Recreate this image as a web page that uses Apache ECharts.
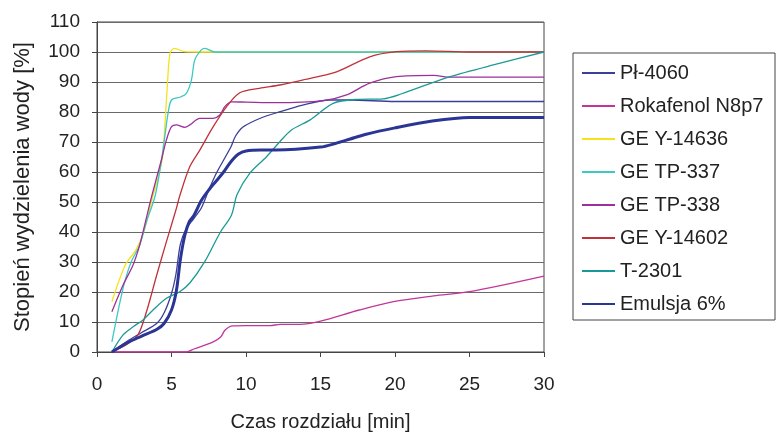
<!DOCTYPE html>
<html>
<head>
<meta charset="utf-8">
<script src="https://cdn.jsdelivr.net/npm/echarts@6/dist/echarts.min.js"></script>
<style>
  html, body { margin: 0; padding: 0; background: #fff; }
  #chart { width: 777px; height: 432px; }
</style>
</head>
<body>
<div id="chart"></div>
<script>
// [czas min, stopien %]
var pl4060 = [[1,0],[2,3.5],[3,6.5],[4,9.5],[4.5,13],[5,19.5],[5.3,26],[5.6,36],[6,41.2],[6.5,44.5],[7,48],[7.5,54],[8,59.5],[8.5,64],[9,68.5],[9.3,72],[9.8,75],[11,78],[12.3,80.1],[13.8,82.3],[15.6,84],[17,84],[20,83.5],[30,83.5]];
var rokafenol = [[1,0],[6,0],[6.5,1],[7.8,3.4],[8.3,5],[8.6,7.3],[9.1,8.7],[10,8.8],[11.6,8.8],[12.3,9.2],[13.6,9.2],[15,10.3],[17.6,14],[19.9,16.8],[22.6,18.7],[25,20.1],[30,25.3]];
var geY14636 = [[1,16.8],[1.9,29],[2.65,34.3],[3.2,41],[3.75,52],[4.1,58],[4.4,65],[4.7,87],[4.9,99.6],[5.2,101.2],[5.9,100.1],[7,100],[30,100]];
var geTP337 = [[1,3.4],[1.5,15.7],[1.86,23.4],[2.3,30.1],[2.87,35.7],[3.32,43.4],[3.9,52],[4.3,63],[4.55,71.8],[4.77,79.6],[5,84],[5.6,85],[6,86.2],[6.34,90.7],[6.56,97.3],[7,100.7],[7.25,101.2],[7.9,100],[30,100]];
var geTP338 = [[1,13.4],[1.75,22.3],[2.42,29],[2.87,35.7],[3.2,42.3],[3.65,51.5],[4.32,64],[4.66,70.7],[5,75.1],[5.33,75.7],[5.89,74.9],[6.23,75.7],[6.9,77.9],[7.8,77.9],[8.24,79],[8.58,81.8],[9.03,83.4],[10,83.3],[12,83.1],[15.2,83.8],[16.75,85.7],[18.3,89.6],[20.1,91.8],[22.6,92.2],[23.7,91.6],[30,91.6]];
var geY14602 = [[1,0],[2,2.5],[2.75,5.7],[3.32,13.4],[4,25.5],[4.66,36.8],[5.33,47.9],[5.55,52],[6.23,61.8],[6.9,67.3],[7.8,75.1],[8.7,81.8],[9.58,86.4],[10.9,87.9],[12.27,89],[13.84,90.7],[16.08,93.4],[18.3,98.4],[20.1,100.1],[22.1,100.4],[25,100],[30,100]];
var t2301 = [[1,0],[1.75,5.7],[2.42,8.4],[3.09,10.7],[3.76,14],[4.66,17.9],[5.55,20.1],[6.23,23],[7.23,30.1],[8.24,39.6],[9.03,45.7],[9.4,52.5],[10.26,59.6],[11.38,65.1],[12.27,70.1],[13.05,74],[14.28,77.3],[15.85,82.9],[17.4,84.2],[19.2,84.4],[20.4,86],[23.7,91.8],[27,96.2],[30,100]];
var emulsja = [[1,0],[2,3],[3,5.3],[4,7.5],[4.5,9.5],[5,14],[5.33,20.5],[5.6,31],[5.9,39],[6.2,43.5],[6.5,45.5],[7,50.5],[7.5,54],[8,57],[8.5,60],[9,63.5],[9.5,66],[10,67],[11,67.3],[12,67.3],[15,68.3],[16,69.5],[17,71],[18,72.5],[20,74.7],[22.5,77],[25,78.2],[30,78.2]];

var seriesNames = ['Pł-4060', 'Rokafenol N8p7', 'GE Y-14636', 'GE TP-337', 'GE TP-338', 'GE Y-14602', 'T-2301', 'Emulsja 6%'];
var seriesData = [pl4060, rokafenol, geY14636, geTP337, geTP338, geY14602, t2301, emulsja];
var colors = ['#3a3f98', '#c4359a', '#f5e21a', '#3cc8c4', '#9b3199', '#c0323a', '#1a9a96', '#2a3596'];

var chart = echarts.init(document.getElementById('chart'));

var series = seriesNames.map(function (name, i) {
  return {
    name: name,
    type: 'line',
    data: seriesData[i],
    smooth: 0.3,
    symbol: 'none',
    lineStyle: { color: colors[i], width: i === 7 ? 3 : 1.3 },
    itemStyle: { color: colors[i] }
  };
});

var option = {
  backgroundColor: '#fff',
  animation: false,
  textStyle: { fontFamily: 'Liberation Sans, Arial, sans-serif' },
  grid: {
    left: 97, right: 233, top: 22, bottom: 80,
    containLabel: false, outerBoundsMode: 'none',
    show: true, borderColor: '#444', borderWidth: 1
  },
  legend: {
    orient: 'vertical',
    left: 573, top: 53,
    padding: [10, 8, 6, 8],
    borderColor: '#444', borderWidth: 1,
    itemWidth: 33, itemHeight: 14, itemGap: 13,
    itemStyle: { opacity: 0 },
    textStyle: { fontSize: 20, color: '#222', lineHeight: 20, width: 147 },
    data: seriesNames
  },
  xAxis: {
    type: 'value', min: 0, max: 30, interval: 5,
    name: 'Czas rozdziału [min]', nameLocation: 'middle', nameGap: 60,
    nameTextStyle: { fontSize: 20, color: '#222' },
    axisLine: { lineStyle: { color: '#444' } },
    axisTick: { show: true, length: 5, lineStyle: { color: '#444' } },
    axisLabel: { fontSize: 19, color: '#222', margin: 23 },
    splitLine: { show: false }
  },
  yAxis: {
    type: 'value', min: 0, max: 110, interval: 10,
    name: 'Stopień wydzielenia wody [%]', nameLocation: 'middle', nameGap: 63,
    nameTextStyle: { fontSize: 22, color: '#222' },
    axisLine: { show: true, lineStyle: { color: '#444' } },
    axisTick: { show: true, length: 5, lineStyle: { color: '#444' } },
    axisLabel: { fontSize: 19, color: '#222', margin: 17 },
    splitLine: { lineStyle: { color: '#6a6a6a', width: 1 } }
  },
  series: series
};

chart.setOption(option);
</script>
</body>
</html>
